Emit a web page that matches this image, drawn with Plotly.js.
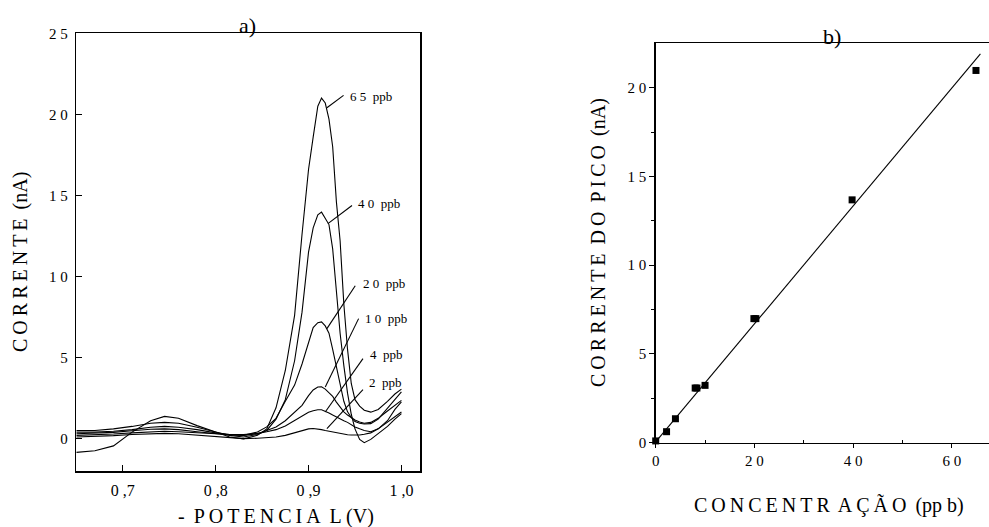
<!DOCTYPE html>
<html>
<head>
<meta charset="utf-8">
<script src="https://cdn.plot.ly/plotly-3.0.1.min.js"></script>
<style>
html,body{margin:0;padding:0;background:#fff;overflow:hidden;}
#chart{width:989px;height:527px;}
</style>
</head>
<body>
<div id="chart"></div>
<script>
// ---- Panel a) voltammograms ----
const potencial = [0.65, 0.67, 0.69, 0.71, 0.73, 0.745, 0.76, 0.78, 0.80, 0.815, 0.83, 0.845, 0.855, 0.865, 0.875, 0.885, 0.893, 0.90, 0.905, 0.91, 0.914, 0.918, 0.922, 0.926, 0.93, 0.934, 0.938, 0.942, 0.946, 0.95, 0.955, 0.96, 0.967, 0.975, 0.985, 0.993, 1.0];
const c65 = [-0.85, -0.75, -0.45, 0.4, 1.1, 1.37, 1.25, 0.8, 0.4, 0.1, -0.02, 0.2, 0.6, 1.9, 4.2, 7.6, 12.6, 16.6, 18.6, 20.5, 21.0, 20.7, 19.7, 18.0, 14.6, 12.2, 8.3, 5.5, 3.4, 2.4, 2.0, 1.75, 1.63, 1.8, 2.3, 2.75, 3.05];
const c40 = [0.5, 0.5, 0.6, 0.75, 0.95, 1.0, 0.95, 0.7, 0.4, 0.2, 0.1, 0.25, 0.5, 1.2, 2.4, 4.8, 7.8, 11.5, 13.0, 13.8, 13.97, 13.6, 13.2, 11.7, 8.9, 6.5, 4.5, 2.8, 1.5, 0.6, -0.05, -0.25, -0.05, 0.3, 0.75, 1.2, 1.54];
const c20 = [0.4, 0.4, 0.45, 0.55, 0.7, 0.75, 0.7, 0.55, 0.35, 0.25, 0.2, 0.4, 0.72, 1.25, 2.3, 3.3, 4.6, 5.9, 6.85, 7.15, 7.2, 6.95, 6.5, 5.5, 4.4, 3.2, 2.3, 1.65, 1.3, 1.05, 0.95, 0.9, 0.92, 1.2, 1.9, 2.4, 2.88];
const c10 = [0.3, 0.32, 0.38, 0.48, 0.58, 0.6, 0.55, 0.42, 0.3, 0.22, 0.2, 0.3, 0.5, 0.72, 1.1, 1.6, 2.05, 2.65, 3.0, 3.18, 3.2, 3.05, 2.85, 2.6, 2.25, 1.95, 1.65, 1.45, 1.3, 1.15, 1.02, 0.95, 1.0, 1.25, 1.7, 2.05, 2.36];
const c4 = [0.2, 0.22, 0.28, 0.35, 0.42, 0.45, 0.42, 0.35, 0.28, 0.25, 0.25, 0.32, 0.42, 0.55, 0.78, 1.1, 1.4, 1.62, 1.72, 1.78, 1.78, 1.7, 1.58, 1.45, 1.32, 1.2, 1.1, 1.0, 0.85, 0.72, 0.6, 0.5, 0.42, 0.6, 1.1, 1.8, 2.26];
const c2 = [0.1, 0.12, 0.18, 0.25, 0.3, 0.32, 0.3, 0.22, 0.12, 0.05, 0.0, 0.02, 0.05, 0.1, 0.2, 0.35, 0.5, 0.6, 0.62, 0.6, 0.55, 0.5, 0.45, 0.4, 0.35, 0.31, 0.27, 0.24, 0.22, 0.2, 0.22, 0.27, 0.35, 0.6, 1.0, 1.35, 1.64];
const curveLabels = ["6 5  ppb", "4 0  ppb", "2 0  ppb", "1 0  ppb", "4  ppb", "2  ppb"];
// leader lines: tail on the curve, head at the label
const leaderTailX = [0.9198, 0.9209, 0.9198, 0.918, 0.918, 0.9198];
const leaderTailY = [20.41, 13.26, 6.78, 3.18, 1.64, 0.62];
const leaderHeadX = [0.9377, 0.9468, 0.9503, 0.9539, 0.9586, 0.9586];
const leaderHeadY = [21.17, 14.38, 9.43, 7.40, 4.93, 3.02];
const labelX = [0.9425, 0.9510, 0.9570, 0.9582, 0.9640, 0.9625];
const labelY = [21.13, 14.51, 9.57, 7.40, 5.18, 3.43];
const aTickVals = [0.7, 0.8, 0.9, 1.0];
const aTickText = ["0 ,7", "0 ,8", "0 ,9", "1 ,0"];
const aYTickVals = [0, 5, 10, 15, 20, 25];
const aYTickText = ["0", "5", "1 0", "1 5", "2 0", "2 5"];

// ---- Panel b) calibration ----
const concentracao = [0, 2.2, 4, 8.0, 8.35, 10, 19.9, 20.3, 39.8, 64.9];
const correntePico = [0.1, 0.62, 1.35, 3.08, 3.08, 3.23, 6.99, 6.99, 13.68, 20.97];
const fitX = [0, 65.8];
const fitY = [0.05, 21.9];
const bXTickVals = [0, 20, 40, 60];
const bXTickText = ["0", "2 0", "4 0", "6 0"];
const bYTickVals = [0, 5, 10, 15, 20];
const bYTickText = ["0", "5", "1 0", "1 5", "2 0"];

const FONT = "'Liberation Serif', 'Times New Roman', Times, serif";
const W = 989, H = 527;
const px = v => v / W;
const py = v => 1 - v / H;

const lineStyle = {color: "#000", width: 1.1};
const traces = [];
[c65, c40, c20, c10, c4, c2].forEach((ys, i) => {
  traces.push({x: potencial, y: ys, type: "scatter", mode: "lines", line: lineStyle,
    name: curveLabels[i], xaxis: "x", yaxis: "y"});
});
traces.push({x: fitX, y: fitY, type: "scatter", mode: "lines", line: {color: "#000", width: 1.1},
  xaxis: "x2", yaxis: "y2", cliponaxis: false, name: "ajuste"});
traces.push({x: concentracao, y: correntePico, type: "scatter", mode: "markers",
  marker: {symbol: "square", size: 7, color: "#000"}, xaxis: "x2", yaxis: "y2", cliponaxis: false, name: "pico"});

const shapes = leaderTailX.map((_, i) => ({type: "line", xref: "x", yref: "y",
  x0: leaderTailX[i], y0: leaderTailY[i], x1: leaderHeadX[i], y1: leaderHeadY[i],
  line: {color: "#000", width: 1.1}}));

const annotations = curveLabels.map((t, i) => ({xref: "x", yref: "y", x: labelX[i], y: labelY[i],
  text: t, showarrow: false, xanchor: "left", yanchor: "middle", font: {family: FONT, size: 13, color: "#000"}}));

annotations.push({xref: "paper", yref: "paper", x: px(247), y: py(26), text: "a)", showarrow: false,
  xanchor: "center", yanchor: "middle", font: {family: FONT, size: 22, color: "#000"}});
annotations.push({xref: "paper", yref: "paper", x: px(832), y: py(36), text: "b)", showarrow: false,
  xanchor: "center", yanchor: "middle", font: {family: FONT, size: 22, color: "#000"}});
annotations.push({xref: "paper", yref: "paper", x: px(21), y: py(262), text: "C\u2009O\u2009R\u2009R\u2009E\u2009N\u2009T\u2009E\u2009 (nA)", showarrow: false,
  textangle: -90, xanchor: "center", yanchor: "middle", font: {family: FONT, size: 20, color: "#000"}});
annotations.push({xref: "paper", yref: "paper", x: px(276), y: py(516), text: "-\u2009 P\u2009O\u2009T\u2009E\u2009N\u2009C\u2009I\u2009A\u2009 L (V)", showarrow: false,
  xanchor: "center", yanchor: "middle", font: {family: FONT, size: 20, color: "#000"}});
annotations.push({xref: "paper", yref: "paper", x: px(598), y: py(243), text: "C\u2009O\u2009R\u2009R\u2009E\u2009N\u2009T\u2009E\u2009 D\u2009O\u2009 P\u2009I\u2009C\u2009O\u2009 (nA)", showarrow: false,
  textangle: -90, xanchor: "center", yanchor: "middle", font: {family: FONT, size: 20, color: "#000"}});
annotations.push({xref: "paper", yref: "paper", x: px(829), y: py(505), text: "C\u2009O\u2009N\u2009C\u2009E\u2009N\u2009T\u2009R\u2009 A\u2009Ç\u2009Ã\u2009O\u2009 (pp b)", showarrow: false,
  xanchor: "center", yanchor: "middle", font: {family: FONT, size: 20, color: "#000"}});

const axBase = {showgrid: false, zeroline: false, showline: true, linecolor: "#000", linewidth: 1.5,
  tickcolor: "#000", tickfont: {family: FONT, size: 15, color: "#000"}, tickmode: "array", fixedrange: true};

const layout = {
  width: W, height: H,
  margin: {l: 0, r: 0, t: 0, b: 0},
  paper_bgcolor: "#fff", plot_bgcolor: "#fff",
  font: {family: FONT, color: "#000"},
  showlegend: false,
  xaxis: Object.assign({}, axBase, {domain: [px(76.3), px(420)], range: [0.65, 1.02], anchor: "y",
    mirror: true, ticks: "inside", ticklen: 6, tickvals: aTickVals, ticktext: aTickText,
    tickfont: {family: FONT, size: 16, color: "#000"}, ticklabelstandoff: 4}),
  yaxis: Object.assign({}, axBase, {domain: [py(471), py(33.3)], range: [-2, 25], anchor: "x",
    mirror: true, ticks: "inside", ticklen: 6, tickvals: aYTickVals, ticktext: aYTickText, ticklabelstandoff: 4}),
  xaxis2: Object.assign({}, axBase, {domain: [px(655.7), 1], range: [0, (W - 655.7) / 4.935], anchor: "y2",
    mirror: true, ticks: "outside", ticklen: 4, tickvals: bXTickVals, ticktext: bXTickText,
    minor: {tickvals: [10, 30, 50], ticks: "inside", ticklen: 3, tickcolor: "#000"}}),
  yaxis2: Object.assign({}, axBase, {domain: [py(442.7), py(43.3)], range: [0, 22.5], anchor: "x2",
    mirror: false, ticks: "outside", ticklen: 5, tickvals: bYTickVals, ticktext: bYTickText,
    minor: {tickvals: [2.5, 7.5, 12.5, 17.5], ticks: "outside", ticklen: 3, tickcolor: "#000"}}),
  shapes: shapes,
  annotations: annotations
};

Plotly.newPlot("chart", traces, layout, {displayModeBar: false, staticPlot: true});
</script>
</body>
</html>
